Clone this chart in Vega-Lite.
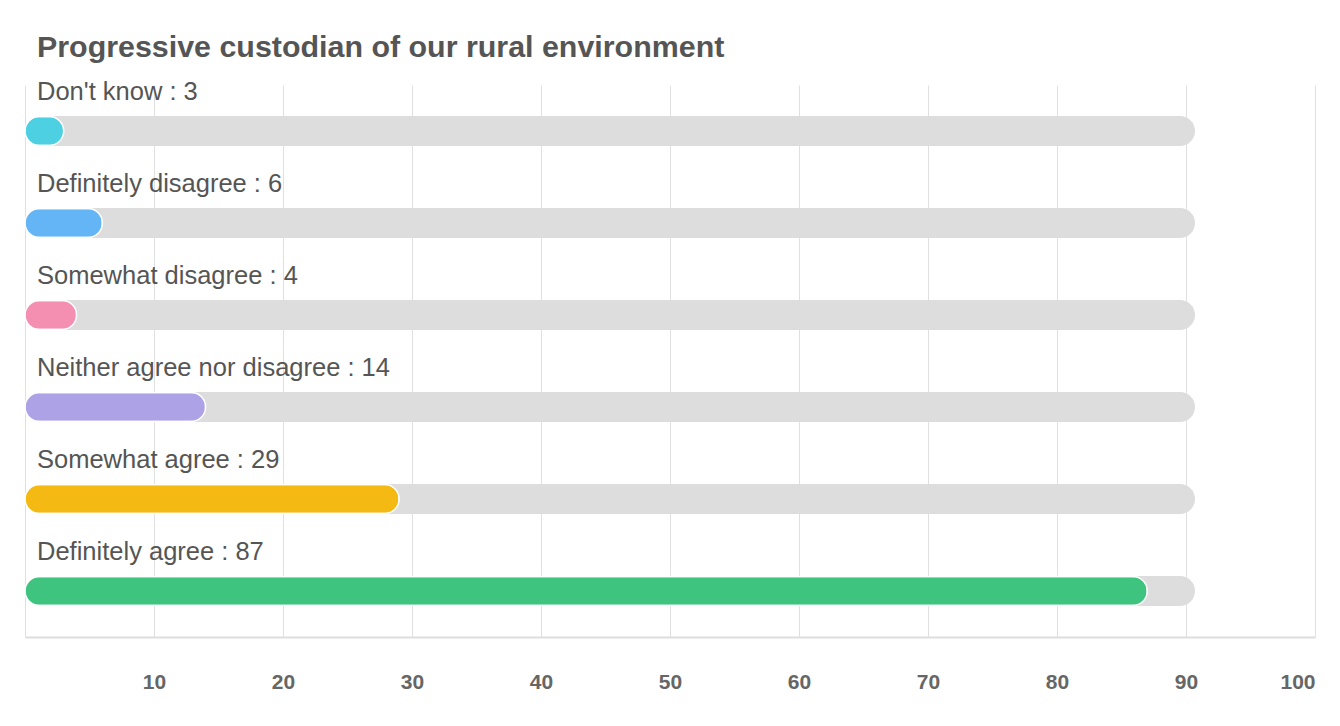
{
  "$schema": "https://vega.github.io/schema/vega-lite/v6.json",
  "width": 1290,
  "height": 552,
  "autosize": "none",
  "padding": {"left": 25, "top": 85, "right": 25, "bottom": 89},
  "background": "white",
  "title": {
    "text": "Progressive custodian of our rural environment",
    "anchor": "start",
    "frame": "group",
    "dx": 12,
    "offset": -7,
    "baseline": "alphabetic",
    "font": "Liberation Sans",
    "fontSize": 30.4,
    "fontWeight": "bold",
    "color": "#555555"
  },
  "config": {
    "view": {"stroke": null},
    "font": "Liberation Sans"
  },
  "data": {
    "values": [
      {"answer": "Don't know", "label": "Don't know : 3", "count": 3, "track": 90.7, "color": "#4dd0e1"},
      {"answer": "Definitely disagree", "label": "Definitely disagree : 6", "count": 6, "track": 90.7, "color": "#64b5f6"},
      {"answer": "Somewhat disagree", "label": "Somewhat disagree : 4", "count": 4, "track": 90.7, "color": "#f48fb1"},
      {"answer": "Neither agree nor disagree", "label": "Neither agree nor disagree : 14", "count": 14, "track": 90.7, "color": "#ada2e6"},
      {"answer": "Somewhat agree", "label": "Somewhat agree : 29", "count": 29, "track": 90.7, "color": "#f4b912"},
      {"answer": "Definitely agree", "label": "Definitely agree : 87", "count": 87, "track": 90.7, "color": "#3ec47e"}
    ]
  },
  "encoding": {
    "y": {
      "field": "answer",
      "type": "nominal",
      "sort": null,
      "scale": {"paddingInner": 0, "paddingOuter": 0},
      "axis": null
    }
  },
  "layer": [
    {
      "mark": {"type": "bar", "color": "#dddddd", "height": 30, "cornerRadius": 15},
      "encoding": {
        "x": {
          "field": "track",
          "type": "quantitative",
          "scale": {"domain": [0, 100], "nice": false},
          "axis": {
            "values": [0, 10, 20, 30, 40, 50, 60, 70, 80, 90, 100],
            "labelExpr": "datum.value == 0 ? '' : datum.label",
            "title": null,
            "grid": true,
            "gridColor": "#e0e0e0",
            "gridWidth": 1,
            "domainColor": "#dddddd",
            "domainWidth": 2,
            "ticks": false,
            "labelPadding": 45,
            "labelBaseline": "middle",
            "labelFont": "Liberation Sans",
            "labelFontSize": 21,
            "labelFontWeight": "bold",
            "labelColor": "#666666",
            "labelFlush": true
          }
        }
      }
    },
    {
      "mark": {"type": "bar", "height": 29, "cornerRadius": 14.5, "stroke": "white", "strokeWidth": 1.5},
      "encoding": {
        "x": {"field": "count", "type": "quantitative"},
        "color": {"field": "color", "type": "nominal", "scale": null, "legend": null}
      }
    },
    {
      "mark": {"type": "text", "align": "left", "baseline": "middle", "dx": 12, "dy": -39, "fontSize": 25.5, "color": "#555555", "font": "Liberation Sans"},
      "encoding": {
        "x": {"datum": 0, "type": "quantitative"},
        "text": {"field": "label", "type": "nominal"}
      }
    }
  ]
}
